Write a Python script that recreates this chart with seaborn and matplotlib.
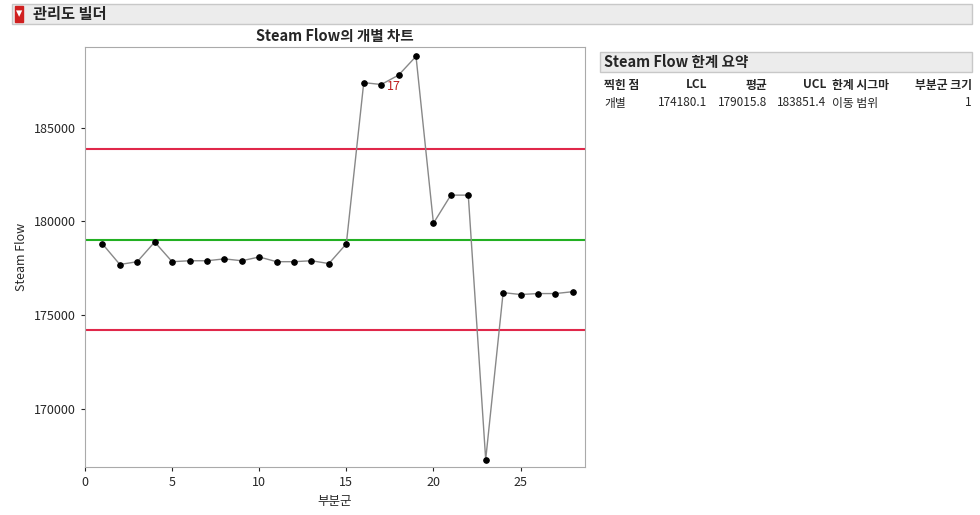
import matplotlib
matplotlib.use("Agg")
import matplotlib.pyplot as plt
import seaborn as sns
import pandas as pd
from matplotlib.patches import Rectangle

subgroup = list(range(1, 29))
steam_flow = [178800, 177700, 177850, 178900, 177850, 177900, 177900, 178000,
              177900, 178100, 177850, 177850, 177900, 177750, 178800, 187400,
              187300, 187800, 188800, 179900, 181400, 181400, 167300, 176200,
              176100, 176150, 176150, 176250]
lcl, mean, ucl = 174180.1, 179015.8, 183851.4
table_cols = ["찍힌 점", "LCL", "평균", "UCL", "한계 시그마", "부분군 크기"]
table_row = ["개별", "174180.1", "179015.8", "183851.4", "이동 범위", "1"]

sns.set_style("white")
plt.rcParams['font.family'] = ['Noto Sans CJK KR', 'DejaVu Sans']

df = pd.DataFrame({"부분군": subgroup, "Steam Flow": steam_flow})
fig = plt.figure(figsize=(9.8, 5.15), dpi=100)
ax = fig.add_axes([85/980, 1-467/515, 500/980, 420/515])

ax.axhline(ucl, color="#e0284a", lw=1.5)
ax.axhline(lcl, color="#e0284a", lw=1.5)
ax.axhline(mean, color="#22b022", lw=1.5)
sns.lineplot(data=df, x="부분군", y="Steam Flow", ax=ax, color="#888888", lw=1,
             marker="o", markersize=4, markerfacecolor="black", markeredgecolor="black")
ax.annotate("17", (17, steam_flow[16]), xytext=(4, -4), textcoords="offset points",
            color="#c02020", fontsize=9)
ax.set_xlim(0, 28.7)
ax.set_ylim(166900, 189300)
ax.set_xticks([0, 5, 10, 15, 20, 25])
ax.set_yticks([170000, 175000, 180000, 185000])
ax.tick_params(labelsize=9, length=3, direction="out", left=True, bottom=True)
ax.set_xlabel("부분군", fontsize=9)
ax.set_ylabel("Steam Flow", fontsize=9)
for s in ax.spines.values():
    s.set_color("#aaaaaa")
ax.set_title("Steam Flow의 개별 차트", fontsize=10.5, fontweight="bold", pad=4)

# header bar
fig.patches.append(Rectangle((12/980, 1-24/515), 960/980, 20/515, transform=fig.transFigure,
                             facecolor="#ececec", edgecolor="#c8c8c8"))
fig.text(33/980, 1-14/515, "관리도 빌더", fontsize=11, fontweight="bold", va="center")
fig.text(19/980, 1-14/515, "▾", fontsize=9, color="white", va="center", ha="center",
         bbox=dict(boxstyle="square,pad=0.1", fc="#d02020", ec="#d02020"))

# summary table
fig.patches.append(Rectangle((600/980, 1-72/515), 372/980, 20/515, transform=fig.transFigure,
                             facecolor="#ececec", edgecolor="#c8c8c8"))
fig.text(604/980, 1-62/515, "Steam Flow 한계 요약", fontsize=10.5, fontweight="bold", va="center")
col_x = [604, 707, 767, 826, 832, 972]
aligns = ["left", "right", "right", "right", "left", "right"]
for x, a, h, v in zip(col_x, aligns, table_cols, table_row):
    fig.text(x/980, 1-85/515, h, fontsize=8.5, fontweight="bold", ha=a, va="center")
    fig.text(x/980, 1-103/515, v, fontsize=8.5, ha=a, va="center")

fig.savefig("out.png", dpi=100)
